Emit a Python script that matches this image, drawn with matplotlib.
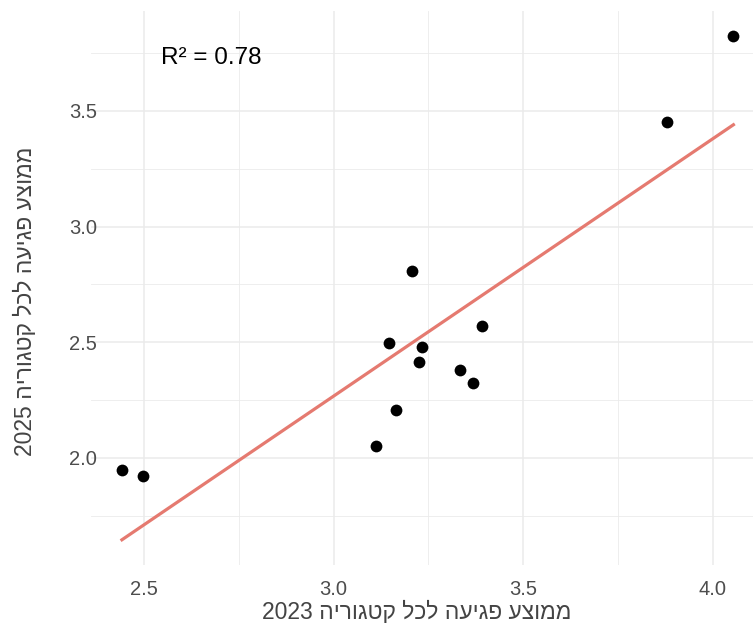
import numpy as np
import matplotlib
matplotlib.use("Agg")
import matplotlib.pyplot as plt
from matplotlib.ticker import MultipleLocator

plt.rcParams['font.family'] = ['Liberation Sans', 'DejaVu Sans']

# average damage per category, 2023 vs 2025
avg_2023 = [2.442, 2.497, 3.207, 3.146, 3.233, 3.226, 3.392, 3.334, 3.368, 3.165, 3.112, 4.054, 3.880]
avg_2025 = [1.948, 1.922, 2.806, 2.496, 2.478, 2.414, 2.569, 2.379, 2.323, 2.207, 2.052, 3.823, 3.453]

x_title = "ממוצע פגיעה לכל קטגוריה"
y_title = "ממוצע פגיעה לכל קטגוריה"
x_year = "2023"
y_year = "2025"
r2_label = "R² = 0.78"


def visual_rtl(heb, year):
    # matplotlib lays glyphs left to right, so put the hebrew in visual order
    return year + " " + heb[::-1]


x = np.array(avg_2023)
y = np.array(avg_2025)

# linear fit like geom_smooth(method = "lm")
slope, intercept = np.polyfit(x, y, 1)
xs = np.array([x.min(), x.max()])
ys = intercept + slope * xs

fig = plt.figure(figsize=(7.53, 6.24), dpi=100)
ax = fig.add_axes([0.1213, 0.0946, 0.8933, 0.8878])

ax.plot(xs, ys, color='#E57A70', linewidth=2.3, zorder=2)
ax.scatter(x, y, s=72, color='black', zorder=3, linewidths=0)

# ggplot-style 5% expansion
allx = np.concatenate([x, xs])
ally = np.concatenate([y, ys])
dx = allx.max() - allx.min()
dy = ally.max() - ally.min()
ax.set_xlim(allx.min() - 0.05 * dx, allx.max() + 0.05 * dx)
ax.set_ylim(ally.min() - 0.05 * dy, ally.max() + 0.05 * dy)

ax.xaxis.set_major_locator(MultipleLocator(0.5))
ax.xaxis.set_minor_locator(MultipleLocator(0.25))
ax.yaxis.set_major_locator(MultipleLocator(0.5))
ax.yaxis.set_minor_locator(MultipleLocator(0.25))
ax.xaxis.set_major_formatter(plt.FuncFormatter(lambda v, p: f"{v:.1f}"))
ax.yaxis.set_major_formatter(plt.FuncFormatter(lambda v, p: f"{v:.1f}"))

ax.grid(which='major', color='#EBEBEB', linewidth=1.1)
ax.grid(which='minor', color='#EBEBEB', linewidth=0.6)
ax.set_axisbelow(True)
for s in ax.spines.values():
    s.set_visible(False)
ax.tick_params(which='both', length=0)
ax.tick_params(axis='x', labelsize=14.5, labelcolor='#4D4D4D', pad=11)
ax.tick_params(axis='y', labelsize=14.5, labelcolor='#4D4D4D', pad=-4)

ax.set_xlabel(visual_rtl(x_title, x_year), fontsize=16.5, color='#444444')
ax.set_ylabel(visual_rtl(y_title, y_year), fontsize=16.5, color='#444444')
ax.xaxis.set_label_coords(0.483, -0.064)
ax.yaxis.set_label_coords(-0.081, 0.476)

ax.text(2.677, 3.73, r2_label, fontsize=17.5, color='black', ha='center', va='center')

fig.savefig("out.png", dpi=100)
